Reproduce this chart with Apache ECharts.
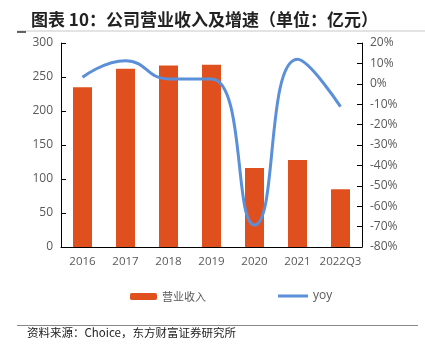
<!DOCTYPE html>
<html><head><meta charset="utf-8">
<script src="https://cdn.jsdelivr.net/npm/echarts@6/dist/echarts.min.js"></script>
<style>html,body{margin:0;padding:0;background:#fff}#c{width:425px;height:362px}</style>
</head><body><div id="c"></div>
<script>
var categories = ['2016','2017','2018','2019','2020','2021','2022Q3'];
var revenue = [235, 262, 267, 268, 116, 128, 85];
var yoy = [3.2, 11.3, 2.4, 2.4, -69.2, 12.0, -11.2];
var leftTicks = {min: 0, max: 300, interval: 50};
var rightTicks = {min: -80, max: 20, interval: 10};

var chart = echarts.init(document.getElementById('c'));
var axisLabelStyle = {color: '#595959', fontSize: 12, fontFamily: 'Open Sans'};
chart.setOption({
  animation: false,
  backgroundColor: '#fff',
  title: {
    text: '图表 10：公司营业收入及增速（单位：亿元）',
    left: 26, top: 6,
    textStyle: {fontFamily: 'Noto Sans CJK SC', fontWeight: 'bold', fontSize: 17, color: '#222'}
  },
  graphic: [
    {type: 'line', shape: {x1: 17, y1: 31, x2: 425, y2: 31}, style: {stroke: '#c8c8c8', lineWidth: 1}},
    {type: 'line', shape: {x1: 17, y1: 32, x2: 26, y2: 32}, style: {stroke: '#333', lineWidth: 1.5}},
    {type: 'line', shape: {x1: 17, y1: 325.5, x2: 418, y2: 325.5}, style: {stroke: '#888', lineWidth: 1}},
    {type: 'text', left: 27, top: 327, style: {text: '资料来源：Choice，东方财富证券研究所', fontFamily: 'Noto Sans CJK SC', fontSize: 11.5, fill: '#222'}}
  ],
  legend: [
    {data: ['营业收入'], left: 125, top: 286, itemWidth: 27, itemHeight: 7,
     textStyle: {color: '#595959', fontSize: 11, fontFamily: 'Noto Sans CJK SC'}},
    {data: [{name: 'yoy', icon: 'rect'}], left: 273, top: 285, itemWidth: 30, itemHeight: 3,
     textStyle: {color: '#595959', fontSize: 12, fontFamily: 'Open Sans'}}
  ],
  grid: {left: 61, right: 63, top: 43, bottom: 115},
  xAxis: {
    type: 'category', data: categories,
    axisLine: {lineStyle: {color: '#000', width: 1}},
    axisTick: {inside: true, length: 5, lineStyle: {color: '#000'}},
    axisLabel: Object.assign({}, axisLabelStyle, {margin: 9, interval: 0, fontSize: 11.5})
  },
  yAxis: [
    {type: 'value', min: leftTicks.min, max: leftTicks.max, interval: leftTicks.interval,
     splitLine: {show: false},
     axisLine: {show: true, lineStyle: {color: '#000'}},
     axisTick: {show: true, inside: true, length: 5, lineStyle: {color: '#000'}},
     axisLabel: Object.assign({margin: 8}, axisLabelStyle)},
    {type: 'value', min: rightTicks.min, max: rightTicks.max, interval: rightTicks.interval,
     splitLine: {show: false},
     axisLine: {show: true, lineStyle: {color: '#000'}},
     axisTick: {show: true, inside: true, length: 5, lineStyle: {color: '#000'}},
     axisLabel: Object.assign({margin: 8, formatter: '{value}%'}, axisLabelStyle)}
  ],
  series: [
    {name: '营业收入', type: 'bar', data: revenue, barWidth: 19, yAxisIndex: 0,
     itemStyle: {color: '#E0501F'}},
    {name: 'yoy', type: 'line', data: yoy, yAxisIndex: 1, smooth: 0.5, symbol: 'none',
     lineStyle: {color: '#5B8FD8', width: 3}, itemStyle: {color: '#5B8FD8'}}
  ]
});
</script></body></html>
